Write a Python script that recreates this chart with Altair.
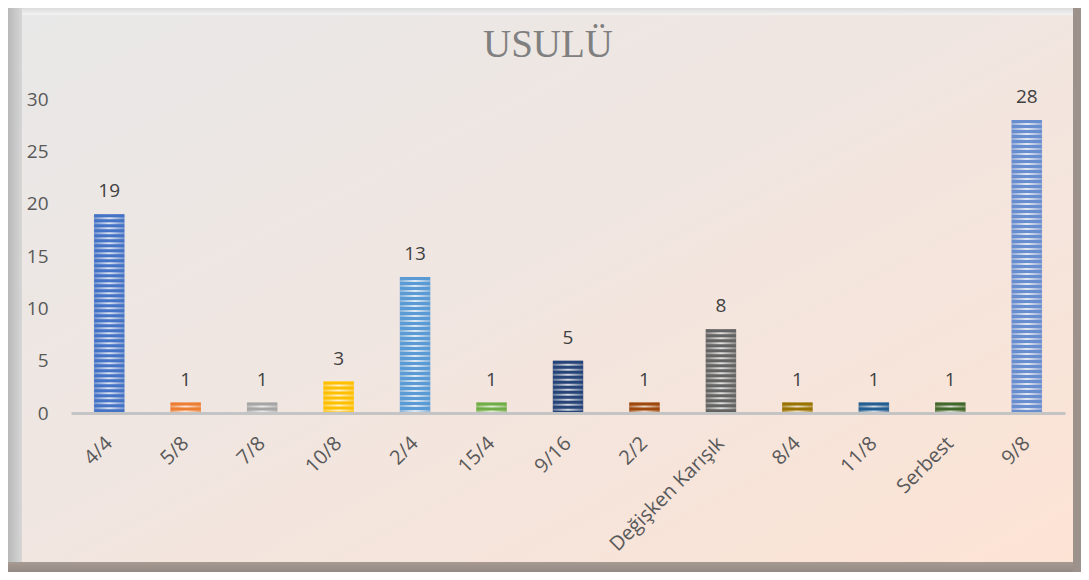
import altair as alt
import pandas as pd

categories = ["4/4", "5/8", "7/8", "10/8", "2/4", "15/4", "9/16", "2/2",
              "Değişken Karışık", "8/4", "11/8", "Serbest", "9/8"]
counts = [19, 1, 1, 3, 13, 1, 5, 1, 8, 1, 1, 1, 28]
bar_colors = ["#4472C4", "#ED7D31", "#A5A5A5", "#FFC000", "#5B9BD5", "#70AD47",
              "#264478", "#9E480E", "#636363", "#997300", "#255E91", "#43682B", "#698ED0"]
y_ticks = [0, 5, 10, 15, 20, 25, 30]

df = pd.DataFrame({"usul": categories, "n": counts})
one = pd.DataFrame({"k": [0]})

W, H = 994, 314
PL, PT, PR, PB = 63, 91, 16, 159
FONT = "Open Sans"

x_enc = alt.X("usul:N", sort=categories,
              scale=alt.Scale(paddingInner=0.6, paddingOuter=0.3),
              axis=alt.Axis(title=None, labelAngle=-45, labelAlign="right",
                            labelBaseline="middle", labelPadding=27,
                            labelFont=FONT, labelFontSize=20, labelColor="#595959",
                            labelLimit=400, ticks=False, domainColor="#C4C4C4",
                            domainWidth=3, zindex=1))
y_enc = alt.Y("n:Q", scale=alt.Scale(domain=[0, 30]),
              axis=alt.Axis(title=None, values=y_ticks, grid=False, domain=False,
                            ticks=False, labelPadding=23, labelFont=FONT,
                            labelFontSize=19, labelColor="#595959", zindex=1))
c_enc = alt.Color("usul:N", sort=categories,
                  scale=alt.Scale(domain=categories, range=bar_colors), legend=None)

bg = alt.Chart(one).mark_rect(
    fill=alt.Gradient(gradient="linear", x1=0, y1=0, x2=1, y2=1,
                      stops=[alt.GradientStop(color="#e8e8e8", offset=0),
                             alt.GradientStop(color="#f0e6e1", offset=0.45),
                             alt.GradientStop(color="#fde3d4", offset=1)])
).encode(x=alt.value(-PL), x2=alt.value(W + PR), y=alt.value(-PT), y2=alt.value(H + PB))

top_bevel = alt.Chart(one).mark_rect(
    fill=alt.Gradient(gradient="linear", x1=0, y1=0, x2=0, y2=1,
                      stops=[alt.GradientStop(color="#dcdcdc", offset=0),
                             alt.GradientStop(color="#f3f3f3", offset=1)])
).encode(x=alt.value(-PL), x2=alt.value(W + PR), y=alt.value(-PT), y2=alt.value(-PT + 7))

left_bevel = alt.Chart(one).mark_rect(
    fill=alt.Gradient(gradient="linear", x1=0, y1=0, x2=1, y2=0,
                      stops=[alt.GradientStop(color="#b9b9b9", offset=0),
                             alt.GradientStop(color="#d6d6d6", offset=1)])
).encode(x=alt.value(-PL), x2=alt.value(-PL + 14), y=alt.value(-PT), y2=alt.value(H + PB))

bottom_bevel = alt.Chart(one).mark_rect(
    fill=alt.Gradient(gradient="linear", x1=0, y1=0, x2=0, y2=1,
                      stops=[alt.GradientStop(color="#a79b93", offset=0),
                             alt.GradientStop(color="#948a84", offset=1)])
).encode(x=alt.value(-PL), x2=alt.value(W + PR), y=alt.value(H + 149), y2=alt.value(H + PB))

right_bevel = alt.Chart(one).mark_rect(color="#9d928b").encode(
    x=alt.value(W + PR - 8), x2=alt.value(W + PR), y=alt.value(-PT), y2=alt.value(H + PB))

base = alt.Chart(df)

bars = base.mark_bar(opacity=0.75).encode(x=x_enc, y=y_enc, color=c_enc)

shine = base.mark_bar(
    fill=alt.Gradient(gradient="linear", x1=0, y1=0, x2=1, y2=0,
                      stops=[alt.GradientStop(color="rgba(255,255,255,0.05)", offset=0),
                             alt.GradientStop(color="rgba(255,255,255,0.75)", offset=0.5),
                             alt.GradientStop(color="rgba(255,255,255,0.05)", offset=1)])
).encode(x=x_enc, y=y_enc)

stripes = base.mark_rule(strokeWidth=30, strokeDash=[3, 2]).encode(
    x=x_enc, y=y_enc, y2=alt.datum(0), color=c_enc)

labels = base.mark_text(font=FONT, fontSize=19, color="#404040",
                        baseline="alphabetic", dy=-17).encode(
    x=x_enc, y=y_enc, text="n:Q")

chart = alt.layer(bg, top_bevel, left_bevel, bottom_bevel, right_bevel,
                  bars, shine, stripes, labels).properties(
    width=W, height=H,
    title=alt.TitleParams("USULÜ", font="Liberation Serif", fontSize=39,
                          fontWeight="normal", color="#808080", anchor="middle",
                          frame="group", baseline="alphabetic", offset=-88, dx=-20,
                          zindex=2),
    autosize=alt.AutoSizeParams(type="none"),
    padding={"left": PL, "top": PT, "right": PR, "bottom": PB},
).configure_view(stroke=None).configure(background="white")

chart.save("out.html", embed_options={"renderer": "svg", "actions": False})
